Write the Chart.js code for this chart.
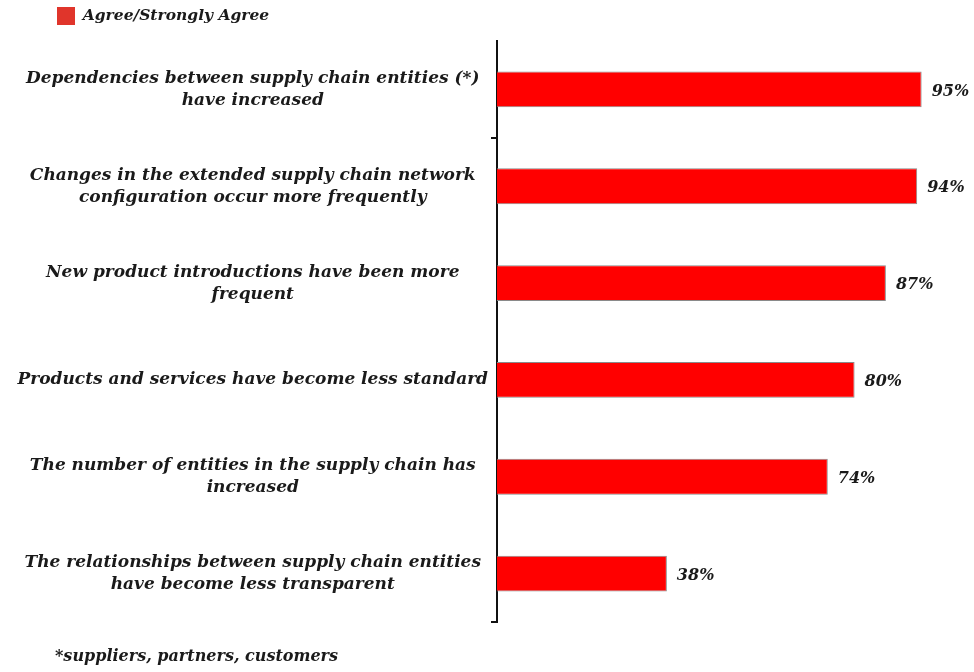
<!DOCTYPE html>
<html><head><meta charset="utf-8">
<script src="https://cdn.jsdelivr.net/npm/chart.js@4"></script>
<style>html,body{margin:0;padding:0;background:#fff}#wrap{width:974px;height:672px}</style>
</head><body><div id="wrap"><canvas id="c" width="974" height="672"></canvas></div>
<script>
const categories = [
  ["Dependencies between supply chain entities (*)", "have increased"],
  ["Changes in the extended supply chain network", "configuration occur more frequently"],
  ["New product introductions have been more", "frequent"],
  ["Products and services have become less standard"],
  ["The number of entities in the supply chain has", "increased"],
  ["The relationships between supply chain entities", "have become less transparent"]
];
const seriesName = "Agree/Strongly Agree";
const agreeValues = [95, 94, 87, 80, 74, 38];
const footnote = "*suppliers, partners, customers";

const FAMILY = '"DejaVu Serif", "Liberation Serif", serif';
const TEXT = '#1a1a1a';

const valueLabels = {
  id: 'valueLabels',
  afterDatasetsDraw(chart) {
    const ctx = chart.ctx;
    const meta = chart.getDatasetMeta(0);
    ctx.save();
    ctx.font = 'italic bold 16px ' + FAMILY;
    ctx.fillStyle = TEXT;
    ctx.textAlign = 'left';
    ctx.textBaseline = 'middle';
    meta.data.forEach((bar, i) => {
      ctx.fillText(chart.data.datasets[0].data[i] + '%', bar.x + 10, bar.y + 2);
    });
    ctx.restore();
  }
};
const footnotePlugin = {
  id: 'footnote',
  afterDraw(chart) {
    const ctx = chart.ctx;
    ctx.save();
    ctx.font = 'italic bold 16px ' + FAMILY;
    ctx.fillStyle = TEXT;
    ctx.textAlign = 'left';
    ctx.textBaseline = 'middle';
    ctx.fillText(footnote, 55, 657);
    ctx.restore();
  }
};
// shift the legend box to the right so it starts where the reference legend starts
const legendShift = {
  id: 'legendShift',
  afterLayout(chart) {
    if (chart.legend) {
      chart.legend.left += 50;
      chart.legend.right += 50;
    }
  }
};

new Chart(document.getElementById('c'), {
  type: 'bar',
  data: {
    labels: categories,
    datasets: [{
      label: seriesName,
      data: agreeValues,
      backgroundColor: '#ff0000',
      borderColor: '#8a8a8a',
      borderWidth: 1,
      barPercentage: 0.37,
      categoryPercentage: 1.0
    }]
  },
  options: {
    responsive: false,
    animation: false,
    indexAxis: 'y',
    layout: { padding: { left: 0, right: 30, top: 0, bottom: 50 } },
    plugins: {
      tooltip: { enabled: false },
      legend: {
        position: 'top',
        align: 'start',
        labels: {
          boxWidth: 18,
          boxHeight: 18,
          padding: 7,
          color: TEXT,
          font: { family: FAMILY, size: 15.5, style: 'italic', weight: 'bold' },
          generateLabels(chart) {
            return Chart.defaults.plugins.legend.labels.generateLabels(chart).map(l =>
              Object.assign(l, { fillStyle: '#e0352b', strokeStyle: '#e0352b', lineWidth: 0 }));
          }
        }
      }
    },
    scales: {
      x: {
        position: 'top',
        min: 0,
        max: 100,
        grid: { display: false },
        border: { display: false },
        ticks: { display: false },
        afterFit(s) { s.height = 6; }
      },
      y: {
        afterFit(s) { s.width = 497; },
        border: { display: true, color: '#111', width: 2 },
        grid: {
          offset: true,
          drawOnChartArea: false,
          drawTicks: true,
          tickLength: 6,
          lineWidth: 2,
          color: (c) => (c.index === 1 || c.type === 'scale') ? '#111' : 'rgba(0,0,0,0)'
        },
        ticks: {
          crossAlign: 'center',
          padding: 3,
          color: TEXT,
          font: { family: FAMILY, size: 17, style: 'italic', weight: 'bold', lineHeight: '22px' }
        }
      }
    }
  },
  plugins: [valueLabels, footnotePlugin, legendShift]
});
</script>
</body></html>
